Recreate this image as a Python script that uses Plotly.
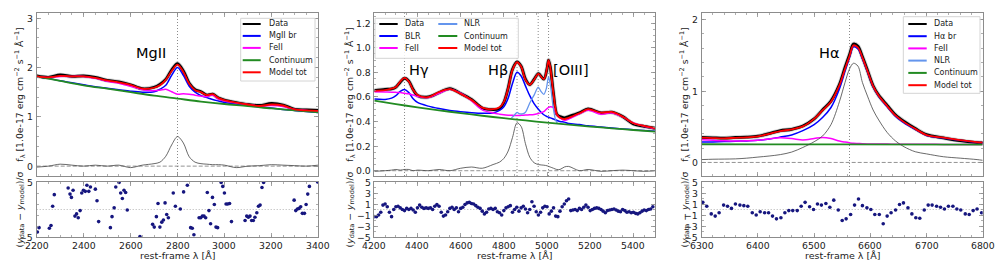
import plotly.graph_objects as go

FONT = "DejaVu Sans"
W, H = 996, 269

# ---------------- Panel 1 : MgII ----------------
wl1 = [2200, 2250, 2300, 2350, 2400, 2450, 2500, 2550, 2600, 2650, 2700, 2725, 2750, 2775, 2800, 2825,
       2850, 2875, 2900, 2925, 2950, 2975, 3000, 3050, 3100, 3150, 3200, 3250, 3300, 3350, 3400]
data1 = [1.83, 1.80, 1.85, 1.82, 1.83, 1.80, 1.74, 1.71, 1.65, 1.57, 1.60, 1.66, 1.76, 1.95, 2.08, 1.93,
         1.68, 1.55, 1.51, 1.44, 1.46, 1.38, 1.34, 1.29, 1.25, 1.23, 1.27, 1.24, 1.15, 1.14, 1.13]
model1 = [1.82, 1.80, 1.83, 1.82, 1.82, 1.79, 1.74, 1.70, 1.65, 1.57, 1.59, 1.64, 1.75, 1.93, 2.06, 1.91,
          1.67, 1.54, 1.50, 1.44, 1.46, 1.38, 1.34, 1.29, 1.25, 1.22, 1.25, 1.23, 1.15, 1.13, 1.12]
br1 = [1.82, 1.78, 1.73, 1.69, 1.65, 1.61, 1.58, 1.55, 1.52, 1.50, 1.51, 1.56, 1.64, 1.84, 2.00, 1.84,
       1.62, 1.50, 1.43, 1.39, 1.35, 1.32, 1.29, 1.26, 1.23, 1.20, 1.18, 1.15, 1.13, 1.11, 1.09]
fe1 = [1.82, 1.80, 1.82, 1.82, 1.82, 1.78, 1.72, 1.68, 1.62, 1.55, 1.53, 1.54, 1.56, 1.51, 1.46, 1.47,
       1.46, 1.44, 1.42, 1.41, 1.44, 1.36, 1.32, 1.28, 1.25, 1.22, 1.23, 1.21, 1.15, 1.13, 1.10]
line1 = [-0.02, 0.0, 0.04, 0.02, 0.0, 0.02, 0.0, 0.02, -0.03, 0.02, 0.05, 0.08, 0.20, 0.43, 0.60, 0.47,
         0.19, 0.08, 0.05, 0.04, 0.03, 0.03, 0.02, -0.03, 0.0, 0.01, 0.03, 0.02, 0.01, 0.0, 0.02]
wlc1 = [2200, 2300, 2400, 2500, 2600, 2700, 2800, 2900, 3000, 3100, 3200, 3300, 3400]
cont1 = [1.82, 1.73, 1.64, 1.57, 1.50, 1.43, 1.37, 1.31, 1.26, 1.22, 1.17, 1.13, 1.09]
r1x = [2203, 2210, 2254, 2261, 2268, 2275, 2334, 2342, 2348, 2355, 2363, 2370, 2377, 2385, 2392, 2399,
       2407, 2414, 2422, 2429, 2450, 2457, 2464, 2514, 2521, 2530, 2537, 2551, 2558, 2565, 2572, 2579,
       2586, 2640, 2694, 2701, 2710, 2717, 2725, 2733, 2740, 2747, 2754, 2761, 2782, 2791, 2812, 2826,
       2842, 2856, 2863, 2870, 2892, 2899, 2906, 2913, 2920, 2927, 2934, 2941, 2949, 2957, 2964, 2971,
       2986, 2993, 3000, 3007, 3014, 3022, 3030, 3088, 3095, 3102, 3109, 3116, 3123, 3130, 3138, 3145,
       3152, 3160, 3167, 3297, 3304, 3311, 3318, 3325, 3332, 3341, 3348, 3355, 3362, 3397]
r1y = [-4.1, -3.3, -3.4, -2.9, 0.6, 2.7, 3.9, 2.8, 2.2, 3.5, -1.2, -0.8, -1.5, -0.2, 3.0, 3.5,
       3.3, 4.4, 3.3, 4.1, 3.7, 1.6, -2.2, -3.3, -1.3, 0.3, 4.1, 4.9, 3.0, 2.0, 3.5, 3.1,
       -0.1, -4.9, -2.7, -3.2, -1.3, 1.1, -3.2, -2.3, -1.9, 1.2, -0.9, -1.5, 3.0, 0.6, 0.1, 3.2,
       4.4, -3.3, -3.4, -4.6, -1.5, -1.5, -1.2, -1.2, -1.5, 3.1, -0.2, -2.6, 2.2, 0.9, -3.2, -3.3,
       4.9, 4.2, 3.0, 1.0, 1.0, 1.1, -2.2, -2.0, -1.2, -1.4, -1.2, -2.0, -2.0, -1.4, -0.6, 0.6,
       0.8, 4.0, 4.9, 1.7, -0.2, 0.1, 0.2, 0.5, -0.7, -0.7, 0.9, 2.8, 4.2, 5.0]
lines1 = [2800]

# ---------------- Panel 2 : Hbeta ----------------
wl2 = [4200, 4250, 4280, 4300, 4320, 4340, 4360, 4380, 4400, 4450,
       4500, 4550, 4600, 4650, 4700, 4750, 4780, 4800, 4820, 4840,
       4861, 4880, 4900, 4920, 4940, 4960, 4985, 5000, 5007, 5015,
       5030, 5045, 5060, 5080, 5100, 5150, 5190, 5250, 5300, 5350,
       5400, 5450, 5500]
model2 = [0.650, 0.655, 0.668, 0.68, 0.725, 0.755, 0.725, 0.657, 0.616, 0.598,
          0.64, 0.663, 0.625, 0.576, 0.513, 0.50, 0.516, 0.56, 0.67, 0.82,
          0.882, 0.847, 0.74, 0.70, 0.74, 0.787, 0.744, 0.834, 0.90, 0.84,
          0.62, 0.46, 0.43, 0.42, 0.43, 0.467, 0.50, 0.472, 0.478, 0.44,
          0.386, 0.364, 0.345]
data2 = [0.652, 0.662, 0.665, 0.68, 0.72, 0.752, 0.728, 0.66, 0.612, 0.60,
         0.635, 0.668, 0.628, 0.58, 0.51, 0.497, 0.505, 0.555, 0.672, 0.825,
         0.885, 0.85, 0.745, 0.70, 0.742, 0.79, 0.745, 0.83, 0.90, 0.845,
         0.625, 0.46, 0.44, 0.43, 0.44, 0.47, 0.502, 0.47, 0.476, 0.44,
         0.38, 0.36, 0.345]
br2 = [0.583, 0.580, 0.590, 0.610, 0.645, 0.660, 0.635, 0.585, 0.555, 0.525,
       0.505, 0.49, 0.48, 0.472, 0.467, 0.47, 0.49, 0.52, 0.59, 0.71,
       0.80, 0.77, 0.69, 0.61, 0.545, 0.50, 0.455, 0.44, 0.435, 0.43,
       0.42, 0.41, 0.40, 0.395, 0.385, 0.375, 0.365, 0.355, 0.347, 0.34,
       0.333, 0.326, 0.32]
fe2 = [0.643, 0.64, 0.638, 0.637, 0.635, 0.63, 0.625, 0.615, 0.603, 0.595,
       0.63, 0.663, 0.63, 0.57, 0.495, 0.47, 0.46, 0.455, 0.452, 0.45,
       0.448, 0.45, 0.453, 0.455, 0.458, 0.465, 0.48, 0.505, 0.515, 0.52,
       0.513, 0.455, 0.43, 0.41, 0.42, 0.462, 0.492, 0.46, 0.47, 0.438,
       0.388, 0.362, 0.343]
line2 = [-0.005, 0.0, 0.005, 0.01, 0.005, 0.01, 0.01, 0.0, 0.005, 0.0,
         0.01, 0.0, 0.02, 0.03, 0.02, 0.05, 0.07, 0.10, 0.16, 0.27,
         0.39, 0.36, 0.22, 0.11, 0.065, 0.05, 0.045, 0.04, 0.035, 0.03,
         0.02, 0.01, 0.01, 0.03, 0.035, 0.0, 0.01, -0.005, 0.0, 0.005,
         0.0, -0.005, 0.0]
wlc2 = [4200, 4300, 4400, 4500, 4600, 4700, 4800, 4900, 5000, 5100, 5200, 5300, 5400, 5500]
cont2 = [0.570, 0.542, 0.515, 0.491, 0.468, 0.447, 0.427, 0.409, 0.391, 0.375, 0.359, 0.345, 0.331, 0.318]
wln2 = [4835, 4845, 4855, 4862, 4870, 4885, 4900, 4920, 4940, 4959, 4972, 4985, 4997, 5007, 5017, 5028, 5040, 5048]
nlr2 = [0.43, 0.445, 0.465, 0.475, 0.465, 0.462, 0.475, 0.55, 0.615, 0.68, 0.645, 0.62, 0.67, 0.765, 0.68, 0.52, 0.41, 0.385]
r2x = list(range(4200, 5500, 10))
r2y = [-1.3, -1.3, -1.0, -0.5, 0.8, 1.0, 0.5, -0.5, -1.3, 0.0,
       0.5, 0.6, 0.3, 0.0, -0.2, 0.2, 0.0, 0.2, -0.1, -0.5,
       0.3, 0.8, 0.4, 0.2, 0.3, 0.2, 0.3, 0.0, 0.6, 0.9,
       0.6, -0.5, -1.2, -1.0, -0.4, 0.2, 0.4, 0.0, 0.3, -0.4,
       0.2, 0.4, 0.9, 1.2, 1.3, 1.1, 1.0, 0.7, 0.4, 0.2,
       -0.3, -0.8, -0.5, 0.1, 0.2, 0.0, 0.2, -0.4, -0.6, -1.0,
       -0.2, 0.3, 0.5, 0.7, -0.5, 0.0, 0.4, -0.3, 0.3, 0.6,
       0.1, -0.6, 0.0, 1.4, 0.6, -0.4, -1.0, -0.5, 0.3, 0.6,
       0.5, -0.8, -0.3, 0.3, -1.2, -1.3, -0.3, 0.5, 1.0, 1.6,
       1.9, -0.2, -0.1, 0.0, -0.2, 0.2, 0.0, 0.4, 0.8, 0.4,
       -0.2, 0.0, 0.2, 0.3, 0.2, 0.0, -0.3, -0.6, -0.2, -0.1,
       0.0, 0.1, -0.1, -0.3, -0.4, 0.0, -0.2, -0.5, -0.4, -0.6,
       -0.5, -0.7, -0.8, -0.6, -0.3, -0.1, -0.2, 0.0, 0.1, 0.5]
lines2 = [4340, 4861, 4959, 5007]

# ---------------- Panel 3 : Halpha ----------------
wl3 = [6300, 6320, 6340, 6360, 6380, 6400, 6420, 6440, 6460, 6480,
       6500, 6515, 6530, 6545, 6555, 6563, 6570, 6578, 6586, 6595,
       6605, 6615, 6630, 6645, 6660, 6680, 6700, 6730, 6760, 6790, 6800]
model3 = [0.347, 0.342, 0.338, 0.345, 0.351, 0.365, 0.40, 0.44, 0.463, 0.505,
          0.61, 0.73, 0.85, 1.08, 1.31, 1.49, 1.64, 1.61, 1.47, 1.28,
          1.07, 0.935, 0.79, 0.655, 0.565, 0.47, 0.384, 0.347, 0.314, 0.285, 0.28]
data3 = [0.35, 0.345, 0.34, 0.35, 0.355, 0.368, 0.405, 0.445, 0.465, 0.51,
         0.61, 0.735, 0.86, 1.09, 1.33, 1.51, 1.66, 1.63, 1.48, 1.29,
         1.075, 0.94, 0.80, 0.665, 0.575, 0.475, 0.39, 0.345, 0.305, 0.278, 0.275]
br3 = [0.285, 0.288, 0.292, 0.296, 0.302, 0.31, 0.328, 0.355, 0.385, 0.445,
       0.53, 0.63, 0.77, 1.03, 1.28, 1.47, 1.62, 1.59, 1.455, 1.27,
       1.06, 0.925, 0.78, 0.645, 0.555, 0.462, 0.378, 0.342, 0.31, 0.282, 0.278]
fe3 = [0.318, 0.31, 0.303, 0.30, 0.303, 0.31, 0.33, 0.345, 0.335, 0.315,
       0.335, 0.35, 0.335, 0.30, 0.285, 0.275, 0.268, 0.265, 0.262, 0.26,
       0.259, 0.258, 0.257, 0.256, 0.256, 0.255, 0.254, 0.253, 0.252, 0.251, 0.251]
line3 = [0.04, 0.045, 0.047, 0.05, 0.06, 0.075, 0.09, 0.11, 0.145, 0.21,
         0.29, 0.37, 0.53, 0.85, 1.12, 1.31, 1.39, 1.35, 1.12, 0.93,
         0.735, 0.595, 0.42, 0.30, 0.22, 0.15, 0.12, 0.08, 0.06, 0.04, 0.03]
wlc3 = [6300, 6550, 6800]
cont3 = [0.255, 0.253, 0.25]
r3x = [6302, 6309, 6317, 6324, 6331, 6339, 6346, 6353, 6360, 6368, 6375, 6382, 6390, 6397, 6404, 6412,
       6419, 6426, 6433, 6441, 6448, 6455, 6462, 6470, 6477, 6484, 6492, 6499, 6506, 6513, 6521, 6528,
       6535, 6543, 6550, 6557, 6565, 6572, 6579, 6586, 6594, 6601, 6608, 6616, 6623, 6630, 6637, 6645,
       6652, 6659, 6667, 6674, 6681, 6688, 6696, 6703, 6710, 6718, 6725, 6732, 6739, 6747, 6754, 6761,
       6769, 6776, 6783, 6790, 6798]
r3y = [1.3, 0.6, -0.8, -1.2, -0.6, 0.8, 0.6, 0.2, 1.0, 0.8, 0.7, 0.6, -0.6, -1.0, -0.4, -0.6,
       -0.6, -1.2, -1.7, -1.5, -0.6, -0.2, -0.2, -0.2, 0.6, 1.3, 0.5, 0.0, 1.0, 0.8, 1.1, 0.4,
       1.7, -0.1, -2.0, -1.7, -0.9, 0.8, 1.9, 0.7, 0.3, 0.0, -0.9, -0.9, -2.6, -1.2, -0.6, -0.1,
       0.9, 1.2, 0.3, -0.8, -1.5, -1.6, -0.1, 0.8, 0.8, 0.6, 0.4, 0.1, 0.6, 0.6, 0.1, -0.1,
       -0.8, -0.9, -0.2, 0.1, -0.6]
lines3 = [6563]

# tick labels
xt1 = [2200, 2400, 2600, 2800, 3000, 3200, 3400]
xt2 = [4200, 4400, 4600, 4800, 5000, 5200, 5400]
xt3 = [6300, 6400, 6500, 6600, 6700, 6800]
yt1 = [0, 1, 2, 3]
yt2 = [0.0, 0.2, 0.4, 0.6, 0.8, 1.0, 1.2]
yt3 = [0, 1, 2]
rt1 = [-5, 5]
rt23 = [-5, -3, -1, 1, 3, 5]

# ---------------- styling ----------------
C_DATA = "black"
C_BLUE = "#0000ff"
C_FE = "#ff00ff"
C_CONT = "#228b22"
C_RED = "#ff0000"
C_NLR = "#6495ed"
C_RES = "#16167f"
FRAME = "#8c8c8c"
TXT = "#222222"

fig = go.Figure()


def add_line(x, y, color, width, xa, ya, smooth=0.9):
    fig.add_trace(go.Scatter(x=x, y=y, mode="lines", xaxis=xa, yaxis=ya,
                             line=dict(color=color, width=width, shape="spline", smoothing=smooth),
                             showlegend=False, hoverinfo="skip"))


panels = [
    dict(xm="x", ym="y", xr="x2", yr="y2", wl=wl1, data=data1, model=model1, br=br1, fe=fe1,
         line=line1, wlc=wlc1, cont=cont1, nlr=None, rx=r1x, ry=r1y, lines=lines1),
    dict(xm="x3", ym="y3", xr="x4", yr="y4", wl=wl2, data=data2, model=model2, br=br2, fe=fe2,
         line=line2, wlc=wlc2, cont=cont2, nlr=(wln2, nlr2), rx=r2x, ry=r2y, lines=lines2),
    dict(xm="x5", ym="y5", xr="x6", yr="y6", wl=wl3, data=data3, model=model3, br=br3, fe=fe3,
         line=line3, wlc=wlc3, cont=cont3, nlr=None, rx=r3x, ry=r3y, lines=lines3),
]

shapes = []
for p in panels:
    xm, ym, xr, yr = p["xm"], p["ym"], p["xr"], p["yr"]
    for lc in p["lines"]:
        shapes.append(dict(type="line", xref=xm, yref=ym + " domain", x0=lc, x1=lc, y0=0, y1=1,
                           line=dict(color="#8a8a8a", width=1, dash="1px,2px"), layer="below"))
    shapes.append(dict(type="line", xref=xm + " domain", yref=ym, x0=0, x1=1, y0=0, y1=0,
                       line=dict(color="#777777", width=0.8, dash="4px,2px"), layer="below"))
    shapes.append(dict(type="line", xref=xr + " domain", yref=yr, x0=0, x1=1, y0=0, y1=0,
                       line=dict(color="#a0a0a0", width=0.8, dash="1px,2px"), layer="below"))
    add_line(p["wl"], p["data"], "#d2d2d2", 4.5, xm, ym)
    add_line(p["wl"], p["data"], C_DATA, 2.8, xm, ym)
    add_line(p["wl"], p["br"], C_BLUE, 1.5, xm, ym)
    add_line(p["wl"], p["fe"], C_FE, 1.5, xm, ym)
    if p["nlr"] is not None:
        add_line(p["nlr"][0], p["nlr"][1], C_NLR, 1.3, xm, ym, smooth=0.7)
    add_line(p["wlc"], p["cont"], C_CONT, 1.8, xm, ym)
    add_line(p["wl"], p["model"], C_RED, 1.8, xm, ym)
    add_line(p["wl"], p["line"], "#444444", 0.8, xm, ym)
    fig.add_trace(go.Scatter(x=p["rx"], y=p["ry"], mode="markers", xaxis=xr, yaxis=yr,
                             marker=dict(color=C_RES, size=3.6, line=dict(width=0)),
                             showlegend=False, hoverinfo="skip"))


def px(x):
    return x / W


def py(y):
    return 1 - y / H


xd = [[px(36.7), px(318.3)], [px(374.3), px(655.0)], [px(701.7), px(982.7)]]
yd_main = [py(176.0), py(13.3)]
yd_res = [py(237.0), py(182.0)]

tickfont = dict(family=FONT, size=9.3, color=TXT)


def axis(**kw):
    d = dict(showline=True, linecolor=FRAME, linewidth=1, mirror="allticks", ticks="inside",
             ticklen=4, tickwidth=0.8, tickcolor=FRAME, showgrid=False, zeroline=False,
             showticklabels=False, automargin=False, fixedrange=True)
    d.update(kw)
    return d


def minor(dt, t0=None):
    m = dict(ticks="inside", ticklen=2, tickwidth=0.7, tickcolor=FRAME, dtick=dt, showgrid=False)
    if t0 is not None:
        m["tick0"] = t0
    return m


xranges = [[2200, 3400], [4200, 5500], [6300, 6800]]
xticks = [xt1, xt2, xt3]
xmin = [50, 50, 20]
yranges = [[-0.2, 3.1], [-0.043, 1.28], [-0.19, 2.09]]
yticks = [yt1, yt2, yt3]
ymin = [0.2, 0.05, 0.2]
yfmt = ["{:.0f}", "{:.1f}", "{:.0f}"]
res_ticks = [rt1, rt23, rt23]

layout_axes = {}
annotations = []


def num(s):
    return s.replace("-", "−")


for i in range(3):
    n_m = 2 * i + 1
    n_r = 2 * i + 2
    km = "" if n_m == 1 else str(n_m)
    kr = str(n_r)
    layout_axes["xaxis" + km] = axis(domain=xd[i], range=xranges[i], anchor="y" + km,
                                     tickmode="array", tickvals=xticks[i], minor=minor(xmin[i], 0))
    layout_axes["yaxis" + km] = axis(domain=yd_main, range=yranges[i], anchor="x" + km,
                                     tickmode="array", tickvals=yticks[i], minor=minor(ymin[i], 0))
    layout_axes["xaxis" + kr] = axis(domain=xd[i], range=xranges[i], anchor="y" + kr,
                                     tickmode="array", tickvals=xticks[i], minor=minor(xmin[i], 0))
    layout_axes["yaxis" + kr] = axis(domain=yd_res, range=[-5, 5], anchor="x" + kr,
                                     tickmode="array", tickvals=res_ticks[i],
                                     minor=minor(1 if i > 0 else 2, 1))
    for v in yticks[i]:
        annotations.append(dict(text=num(yfmt[i].format(v)), xref="x" + km + " domain", yref="y" + km,
                                x=0, y=v, xanchor="right", yanchor="middle", xshift=-1.5,
                                showarrow=False, font=tickfont))
    for v in res_ticks[i]:
        annotations.append(dict(text=num(str(v)), xref="x" + kr + " domain", yref="y" + kr,
                                x=0, y=v, xanchor="right", yanchor="middle", xshift=-1.5,
                                showarrow=False, font=tickfont))
    for v in xticks[i]:
        annotations.append(dict(text=str(v), xref="x" + kr, yref="y" + kr + " domain",
                                x=v, y=0, xanchor="center", yanchor="top", yshift=-1,
                                showarrow=False, font=tickfont))

ytitle_main = "f<sub>λ</sub> [1.0e-17 erg cm<sup>−2</sup> s<sup>−1</sup> Å<sup>−1</sup>]"
ytitle_res = "(<i>y</i><sub>data</sub> − <i>y</i><sub>model</sub>)/σ"
ytitle_x = [20.0, 350.0, 685.0]
for i in range(3):
    annotations.append(dict(text=ytitle_main, xref="paper", yref="paper", x=px(ytitle_x[i]),
                            y=(yd_main[0] + yd_main[1]) / 2, textangle=-90, showarrow=False,
                            xanchor="center", yanchor="middle",
                            font=dict(family=FONT, size=9.3, color=TXT)))
    annotations.append(dict(text=ytitle_res, xref="paper", yref="paper", x=px(ytitle_x[i]),
                            y=(yd_res[0] + yd_res[1]) / 2, textangle=-90, showarrow=False,
                            xanchor="center", yanchor="middle",
                            font=dict(family=FONT, size=9.3, color=TXT)))
    annotations.append(dict(text="rest-frame λ [Å]", xref="paper", yref="paper",
                            x=(xd[i][0] + xd[i][1]) / 2, y=py(255), showarrow=False,
                            xanchor="center", yanchor="middle",
                            font=dict(family=FONT, size=9.5, color=TXT)))

line_labels = [("MgII", "x", "y", 2687, 2.29), ("Hγ", "x3", "y3", 4409, 0.815),
               ("Hβ", "x3", "y3", 4773, 0.815), ("[OIII]", "x3", "y3", 5111, 0.815),
               ("Hα", "x5", "y5", 6526, 1.53)]
for t, xa, ya, xv, yv in line_labels:
    annotations.append(dict(text=t, xref=xa, yref=ya, x=xv, y=yv, showarrow=False,
                            xanchor="center", yanchor="middle",
                            font=dict(family=FONT, size=14.5, color="black")))

legends = [
    dict(box=(240.7, 18.3, 315.0, 81.0),
         items=[("Data", C_DATA, 242.7, 260.7, 266.7, 24.0), ("MgII br", C_BLUE, 242.7, 260.7, 266.7, 35.9),
                ("FeII", C_FE, 242.7, 260.7, 266.7, 47.9), ("Continuum", C_CONT, 242.7, 260.7, 266.7, 60.2),
                ("Model tot", C_RED, 242.7, 260.7, 266.7, 72.3)]),
    dict(box=(375.0, 18.3, 518.3, 58.3),
         items=[("Data", C_DATA, 379.3, 397.7, 403.3, 24.0), ("BLR", C_BLUE, 379.3, 397.7, 403.3, 36.0),
                ("FeII", C_FE, 379.3, 397.7, 403.3, 48.0), ("NLR", C_NLR, 438.3, 457.3, 461.7, 24.0),
                ("Continuum", C_CONT, 438.3, 457.3, 461.7, 36.0), ("Model tot", C_RED, 438.3, 457.3, 461.7, 48.0)]),
    dict(box=(903.3, 16.7, 980.0, 93.3),
         items=[("Data", C_DATA, 908.3, 926.7, 931.7, 24.0), ("Hα br", C_BLUE, 908.3, 926.7, 931.7, 36.2),
                ("FeII", C_FE, 908.3, 926.7, 931.7, 48.4), ("NLR", C_NLR, 908.3, 926.7, 931.7, 60.6),
                ("Continuum", C_CONT, 908.3, 926.7, 931.7, 72.9), ("Model tot", C_RED, 908.3, 926.7, 931.7, 85.2)]),
]
for lg in legends:
    x0, y0, x1, y1 = lg["box"]
    shapes.append(dict(type="rect", xref="paper", yref="paper", x0=px(x0), x1=px(x1), y0=py(y1), y1=py(y0),
                       line=dict(color="#d4d4d4", width=1), fillcolor="rgba(255,255,255,0.85)", layer="above"))
    for label, col, lx0, lx1, tx, ty in lg["items"]:
        shapes.append(dict(type="line", xref="paper", yref="paper", x0=px(lx0), x1=px(lx1), y0=py(ty), y1=py(ty),
                           line=dict(color=col, width=2), layer="above"))
        annotations.append(dict(text=label, xref="paper", yref="paper", x=px(tx), y=py(ty), showarrow=False,
                                xanchor="left", yanchor="middle",
                                font=dict(family=FONT, size=8, color=TXT)))

fig.update_layout(width=W, height=H, margin=dict(l=0, r=0, t=0, b=0, pad=0),
                  paper_bgcolor="white", plot_bgcolor="white", showlegend=False,
                  font=dict(family=FONT, size=9.3, color=TXT),
                  shapes=shapes, annotations=annotations, **layout_axes)

# remove the default page margin so the figure sits at the window's top-left corner
fig.write_html("out.html",
               config={"displayModeBar": False, "staticPlot": True},
               post_script="document.body.style.margin='0px';document.body.style.padding='0px';"
                           "document.body.style.overflow='hidden';")
